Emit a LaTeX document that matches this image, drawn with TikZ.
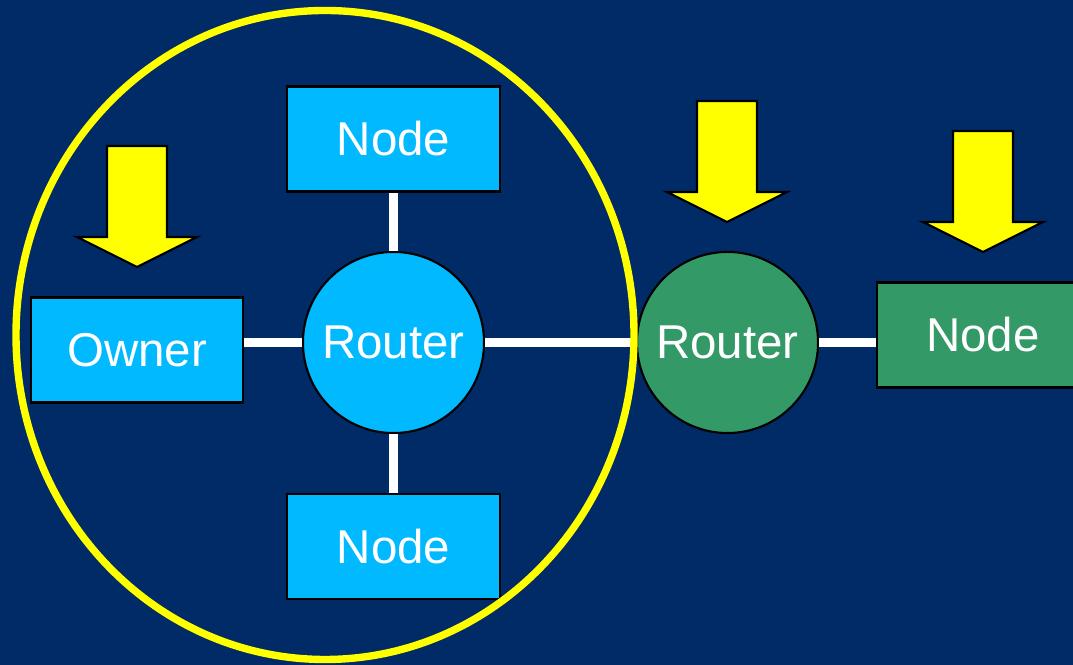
\documentclass[tikz,border=0pt]{standalone}
\usepackage{fontspec}
\setmainfont{Liberation Sans}
\definecolor{slidebg}{HTML}{002B66}
\definecolor{hostblue}{HTML}{00B9FF}
\definecolor{hostgreen}{HTML}{339966}
\definecolor{markyellow}{HTML}{FFFF00}

\begin{document}
\begin{tikzpicture}[x=0.01cm, y=-0.01cm,
	host/.style={rectangle, draw=black, line width=0.6pt, text=white,
		minimum width=2.12cm, minimum height=1.05cm, inner sep=0pt,
		font=\fontsize{13.5}{16}\selectfont},
	router/.style={circle, draw=black, line width=0.6pt, text=white,
		minimum size=1.81cm, inner sep=0pt,
		font=\fontsize{13.5}{16}\selectfont},
	link/.style={white, line width=2.4pt},
	pointer/.style={fill=markyellow, draw=black, line width=0.6pt, line join=miter}]
	
	\path[use as bounding box, clip] (0,0) rectangle (1073,665);
	\fill[slidebg] (0,0) rectangle (1073,665);
	
	%\node at (0,0) {};
	\node[router, fill=hostblue]  (routerA) at (393.5,342.5) {Router};
	\node[router, fill=hostgreen] (routerB) at (727.5,342.5) {Router};
	\node[host, fill=hostblue]  (nodeA) at (393.5,139) {Node};
	\node[host, fill=hostblue]  (nodeB) at (393.5,546.5) {Node};
	\node[host, fill=hostblue]  (owner) at (137,350) {Owner};
	\node[host, fill=hostgreen] (nodeC) at (983,335) {Node};
	
	\draw[link] (routerA) -- (nodeA);
	\draw[link] (routerA) -- (nodeB);
	\draw[link] (routerA.west) -- (routerA.west -| owner.east);
	\draw[link] (routerA.east) -- (routerB.west);
	\draw[link] (routerB.east) -- (routerB.east -| nodeC.west);
	
	\draw[markyellow, line width=2.1pt] (325,335) ellipse [x radius=309, y radius=324.5];
	
	\foreach \ax/\ay in {137/267, 727/222, 983/252}
		\draw[pointer] (\ax,\ay) -- ++(-60,-30) -- ++(30,0) -- ++(0,-91)
			-- ++(60,0) -- ++(0,91) -- ++(30,0) -- cycle;
\end{tikzpicture}
\end{document}
